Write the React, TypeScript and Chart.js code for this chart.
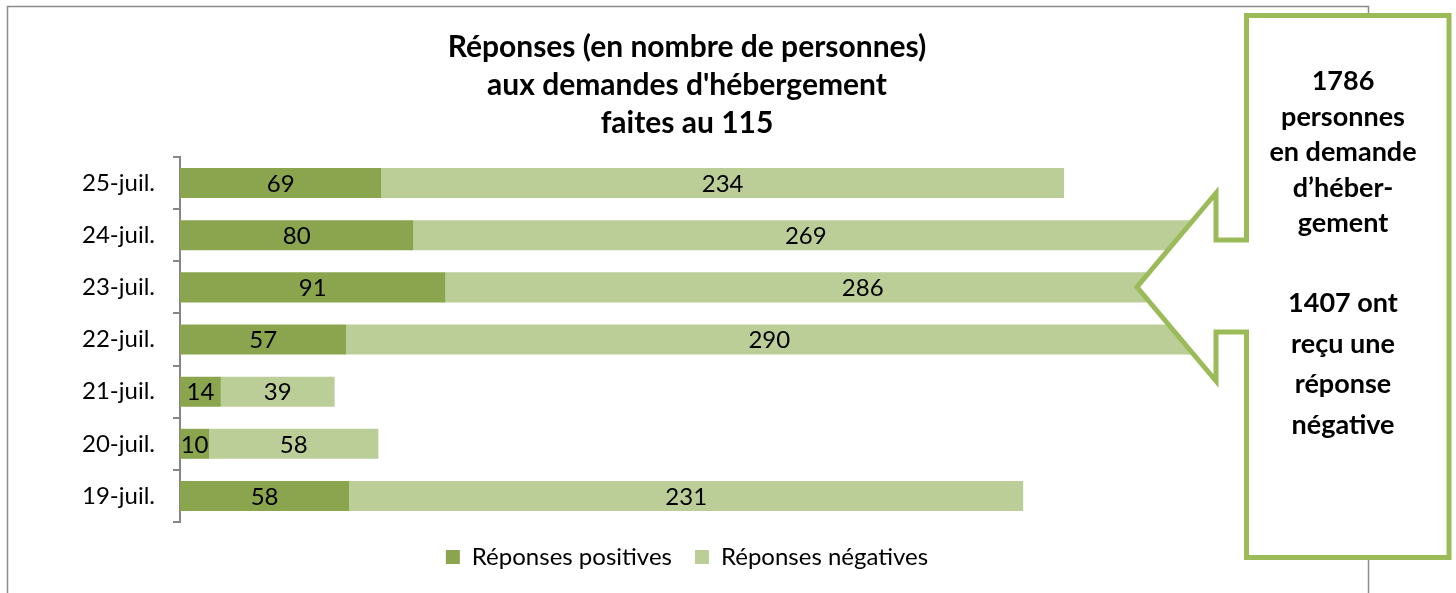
import React, { useEffect, useRef } from 'react';
import { Chart, registerables } from 'chart.js';

Chart.register(...registerables);

const categories = ['19-juil.', '20-juil.', '21-juil.', '22-juil.', '23-juil.', '24-juil.', '25-juil.'];
const positives = [58, 10, 14, 57, 91, 80, 69];
const negatives = [231, 58, 39, 290, 286, 269, 234];
const seriesNames = ['Réponses positives', 'Réponses négatives'];
const titleLines = ['Réponses (en nombre de personnes)', "aux demandes d'hébergement", 'faites au 115'];
const calloutTop = ['1786', 'personnes', 'en demande', 'd’héber-', 'gement'];
const calloutBottom = ['1407 ont', 'reçu une', 'réponse', 'négative'];

const FONT = 'Lato, "Open Sans", sans-serif';
const DARK = '#8AA54E';
const LIGHT = '#BBCE97';
const CALLOUT = '#9BBB59';

const framePlugin = {
  id: 'frame',
  beforeDraw(chart: any) {
    const ctx = chart.ctx;
    ctx.save();
    ctx.strokeStyle = '#8c8c8c';
    ctx.lineWidth = 1.5;
    ctx.strokeRect(7.5, 6.5, 1361, 620);
    ctx.restore();
  },
};

const labelPlugin = {
  id: 'barLabels',
  afterDatasetsDraw(chart: any) {
    const ctx = chart.ctx;
    ctx.save();
    ctx.fillStyle = '#000';
    ctx.font = `24px ${FONT}`;
    ctx.textAlign = 'center';
    ctx.textBaseline = 'middle';
    chart.data.datasets.forEach((ds: any, di: number) => {
      const meta = chart.getDatasetMeta(di);
      meta.data.forEach((el: any, i: number) => {
        const v = ds.data[i];
        const cx = (el.x + el.base) / 2;
        ctx.fillText(String(v), cx, el.y + 1);
      });
    });
    ctx.restore();
  },
};

const calloutPlugin = {
  id: 'callout',
  afterDraw(chart: any) {
    const ctx = chart.ctx;
    ctx.save();
    ctx.beginPath();
    ctx.moveTo(1246.5, 15.5);
    ctx.lineTo(1449, 15.5);
    ctx.lineTo(1449, 557.5);
    ctx.lineTo(1246.5, 557.5);
    ctx.lineTo(1246.5, 332);
    ctx.lineTo(1216, 332);
    ctx.lineTo(1216, 381);
    ctx.lineTo(1137, 287);
    ctx.lineTo(1216, 193);
    ctx.lineTo(1216, 240);
    ctx.lineTo(1246.5, 240);
    ctx.closePath();
    ctx.fillStyle = '#fff';
    ctx.fill();
    ctx.strokeStyle = CALLOUT;
    ctx.lineWidth = 5;
    ctx.lineJoin = 'miter';
    ctx.stroke();

    ctx.fillStyle = '#000';
    ctx.font = `bold 27px ${FONT}`;
    ctx.textAlign = 'center';
    ctx.textBaseline = 'alphabetic';
    calloutTop.forEach((t, i) => ctx.fillText(t, 1343, 90 + i * 35.5));
    calloutBottom.forEach((t, i) => ctx.fillText(t, 1343, 312 + i * 40.5));
    ctx.restore();
  },
};

export default function App() {
  const ref = useRef<HTMLCanvasElement>(null);
  useEffect(() => {
    if (!ref.current) return;
    const chart = new Chart(ref.current, {
      type: 'bar',
      data: {
        labels: categories,
        datasets: [
          { label: seriesNames[0], data: positives, backgroundColor: DARK, borderWidth: 0, barPercentage: 0.576, categoryPercentage: 1 },
          { label: seriesNames[1], data: negatives, backgroundColor: LIGHT, borderWidth: 0, barPercentage: 0.576, categoryPercentage: 1 },
        ],
      },
      options: {
        indexAxis: 'y',
        responsive: false,
        animation: false,
        layout: { padding: { left: 27, right: 109, top: 0, bottom: 14 } },
        scales: {
          x: { stacked: true, display: false, min: 0, max: 400 },
          y: {
            stacked: true,
            reverse: true,
            afterFit: (s: any) => { s.width = 153; },
            grid: { drawOnChartArea: false, drawTicks: true, tickLength: 7, color: '#868686', lineWidth: 2, offset: true },
            border: { display: true, color: '#868686', width: 2 },
            ticks: { padding: 18, color: '#000', font: { family: FONT, size: 24 } },
          },
        },
        plugins: {
          title: {
            display: true,
            text: titleLines,
            color: '#000',
            font: { family: FONT, size: 30, weight: 'bold', lineHeight: 1.267 },
            padding: { top: 28, bottom: 15 },
          },
          legend: {
            position: 'bottom',
            labels: { boxWidth: 14, boxHeight: 14, padding: 23, color: '#000', font: { family: FONT, size: 24 } },
          },
          tooltip: { enabled: false },
        },
      },
      plugins: [framePlugin, labelPlugin, calloutPlugin],
    } as any);
    return () => chart.destroy();
  }, []);
  return (
    <div style={{ position: 'absolute', left: 0, top: 0, width: 1456, height: 593, background: '#fff' }}>
      <canvas ref={ref} width={1456} height={593} style={{ display: 'block' }} />
    </div>
  );
}
